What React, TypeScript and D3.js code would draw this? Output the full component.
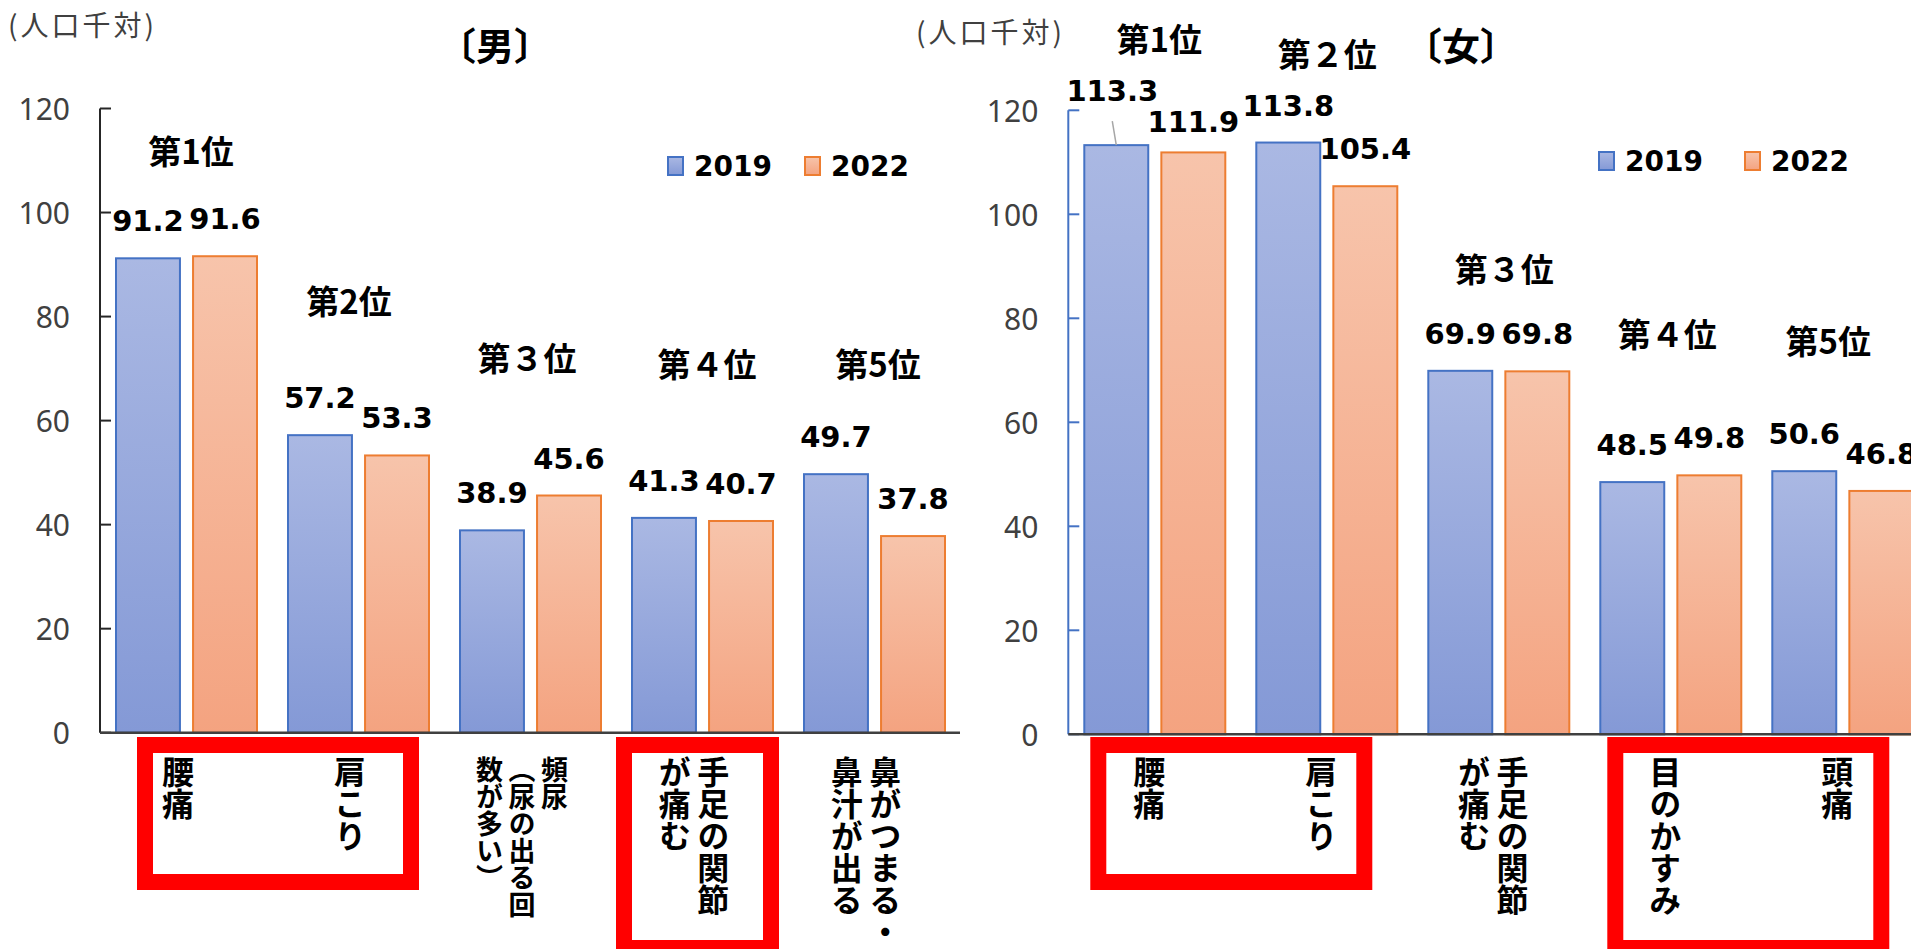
import React from "react";
import * as d3 from "d3";

// values (人口千対)
const years = ["2019", "2022"];
const yTicks = [0, 20, 40, 60, 80, 100, 120];

const maleCategories = [
  ["腰痛"],
  ["肩こり"],
  ["頻尿", "（尿の出る回", "数が多い）"],
  ["手足の関節", "が痛む"],
  ["鼻がつまる・", "鼻汁が出る"],
];
const male2019 = [91.2, 57.2, 38.9, 41.3, 49.7];
const male2022 = [91.6, 53.3, 45.6, 40.7, 37.8];
const maleRanks = ["第1位", "第2位", "第３位", "第４位", "第5位"];

const femaleCategories = [
  ["腰痛"],
  ["肩こり"],
  ["手足の関節", "が痛む"],
  ["目のかすみ"],
  ["頭痛"],
];
const female2019 = [113.3, 113.8, 69.9, 48.5, 50.6];
const female2022 = [111.9, 105.4, 69.8, 49.8, 46.8];
const femaleRanks = ["第1位", "第２位", "第３位", "第４位", "第5位"];

const BLUE = "#4472C4";
const ORANGE = "#ED7D31";
const CJK = "'Noto Sans CJK JP', sans-serif";
const NUM = "'DejaVu Sans', sans-serif";

// layout of the two panels (annotation positions are hand placed like the original)
const panels = [
  {
    key: "m",
    title: "〔男〕",
    titleX: 495,
    unitX: 8,
    unitY: 24,
    x0: 100,
    x1: 960,
    yBottom: 732.7,
    yTop: 108.5,
    axisColor: "#262626",
    cats: maleCategories,
    s2019: male2019,
    s2022: male2022,
    ranks: maleRanks,
    rankY: [150, 300, 357, 363, 363],
    rankDx: [5, -9, -3, 5, 4],
    legendX: 668,
    legendY: 166,
    legendGap: 137,
    catShift: -8,
    boxes: [
      { from: 0, to: 1, l: 37, r: 25, bottom: 890 },
      { from: 3, to: 3, l: 0, r: 9, bottom: 956 },
    ],
    nudge: {} as Record<string, { dx: number; dy: number }>,
  },
  {
    key: "f",
    title: "〔女〕",
    titleX: 1461,
    unitX: 916,
    unitY: 31,
    x0: 1068.3,
    x1: 1928.3,
    yBottom: 734.3,
    yTop: 110.3,
    axisColor: BLUE,
    cats: femaleCategories,
    s2019: female2019,
    s2022: female2022,
    ranks: femaleRanks,
    rankY: [38, 53, 268, 333, 340],
    rankDx: [5, 1, 6, -3, -14],
    legendX: 1599,
    legendY: 161,
    legendGap: 146,
    catShift: -5,
    boxes: [
      { from: 0, to: 1, l: 22, r: 40, bottom: 890 },
      { from: 3, to: 4, l: 23, r: 39, bottom: 956 },
    ],
    nudge: { "0-0": { dx: -4, dy: -17 }, "0-1": { dx: 0, dy: 7 } } as Record<
      string,
      { dx: number; dy: number }
    >,
  },
];

function Panel({ p }: { p: (typeof panels)[number] }) {
  const idx = p.cats.map((_, i) => String(i));
  const x0 = d3.scaleBand().domain(idx).range([p.x0, p.x1]);
  const x1 = d3.scaleBand().domain(years).range([16, 157]).paddingInner(0.17);
  const y = d3.scaleLinear().domain([0, 120]).range([p.yBottom, p.yTop]);
  const series = [p.s2019, p.s2022];
  const fills = ["url(#gBlue)", "url(#gOrange)"];
  const strokes = [BLUE, ORANGE];
  const bw = x1.bandwidth();

  return (
    <g>
      {/* bars */}
      {idx.map((k, i) =>
        years.map((yr, j) => {
          const v = series[j][i];
          return (
            <rect
              key={k + yr}
              x={x0(k)! + x1(yr)!}
              y={y(v)}
              width={bw}
              height={y(0) - y(v)}
              fill={fills[j]}
              stroke={strokes[j]}
              strokeWidth={2}
            />
          );
        })
      )}

      {/* value labels */}
      {idx.map((k, i) =>
        years.map((yr, j) => {
          const v = series[j][i];
          const n = p.nudge[`${i}-${j}`] || { dx: 0, dy: 0 };
          const cx = x0(k)! + x1(yr)! + bw / 2;
          const ty = y(v) - 27 + n.dy;
          return (
            <g key={"l" + k + yr}>
              {n.dy < -10 && (
                <line
                  x1={cx + n.dx}
                  y1={ty + 20}
                  x2={cx}
                  y2={y(v)}
                  stroke="#A6A6A6"
                  strokeWidth={1.5}
                />
              )}
              <text
                x={cx + n.dx}
                y={ty}
                textAnchor="middle"
                fontFamily={NUM}
                fontWeight="bold"
                fontSize={29}
                fill="#000"
              >
                {v.toFixed(1)}
              </text>
            </g>
          );
        })
      )}

      {/* y axis */}
      <line
        x1={p.x0}
        x2={p.x0}
        y1={y(0)}
        y2={y(120)}
        stroke={p.axisColor}
        strokeWidth={2}
      />
      {yTicks.map((t) => (
        <g key={"t" + t}>
          <line
            x1={p.x0}
            x2={p.x0 + 11}
            y1={y(t)}
            y2={y(t)}
            stroke={p.axisColor}
            strokeWidth={2}
          />
          <text
            x={p.x0 - 30}
            y={y(t)}
            textAnchor="end"
            dominantBaseline="central"
            fontFamily="'Noto Sans', sans-serif"
            fontSize={30}
            fill="#404040"
          >
            {t}
          </text>
        </g>
      ))}
      {/* x axis */}
      <line
        x1={p.x0}
        x2={p.x1}
        y1={y(0)}
        y2={y(0)}
        stroke="#404040"
        strokeWidth={2.5}
      />

      {/* rank labels */}
      {p.ranks.map((r, i) => (
        <text
          key={"r" + i}
          x={x0(idx[i])! + x0.bandwidth() / 2 + p.rankDx[i]}
          y={p.rankY[i]}
          textAnchor="middle"
          dominantBaseline="central"
          fontFamily={CJK}
          fontWeight="bold"
          fontSize={33}
          fill="#000"
        >
          {r}
        </text>
      ))}

      {/* vertical category labels, one text per column, right to left */}
      {p.cats.map((cols, i) => {
        const fs = cols.length >= 3 ? 27 : 32;
        const pitch = fs * 1.2;
        const cx = x0(idx[i])! + x0.bandwidth() / 2 + p.catShift;
        return cols.map((col, c) => (
          <text
            key={`c${i}-${c}`}
            x={cx + ((cols.length - 1) / 2) * pitch - c * pitch}
            y={756}
            style={{ writingMode: "vertical-rl", textOrientation: "mixed" }}
            fontFamily={CJK}
            fontWeight="bold"
            fontSize={fs}
            fill="#000"
          >
            {col}
          </text>
        ));
      })}

      {/* red highlight boxes */}
      {p.boxes.map((b, i) => {
        const left = x0(idx[b.from])! + b.l;
        const right = x0(idx[b.to])! + x0.bandwidth() - b.r;
        const top = 737;
        return (
          <rect
            key={"b" + i}
            x={left + 8}
            y={top + 8}
            width={right - left - 16}
            height={b.bottom - top - 16}
            fill="none"
            stroke="#FF0000"
            strokeWidth={16}
          />
        );
      })}

      {/* legend */}
      {years.map((yr, j) => (
        <g key={"lg" + yr} transform={`translate(${p.legendX + j * p.legendGap},${p.legendY})`}>
          <rect x={0} y={-9} width={15} height={18} fill={fills[j]} stroke={strokes[j]} strokeWidth={2} />
          <text
            x={26}
            y={0}
            dominantBaseline="central"
            fontFamily={NUM}
            fontWeight="bold"
            fontSize={28}
            fill="#000"
          >
            {yr}
          </text>
        </g>
      ))}

      {/* title and unit */}
      <text
        x={p.titleX}
        y={43}
        textAnchor="middle"
        dominantBaseline="central"
        fontFamily={CJK}
        fontWeight="bold"
        fontSize={38}
        fill="#000"
      >
        {p.title}
      </text>
      <text
        x={p.unitX}
        y={p.unitY}
        dominantBaseline="central"
        fontFamily={CJK}
        fontSize={28}
        letterSpacing={3}
        fill="#404040"
      >
        (人口千対)
      </text>
    </g>
  );
}

export default function App() {
  return (
    <svg
      width={1911}
      height={949}
      style={{ position: "absolute", left: 0, top: 0, background: "#fff" }}
    >
      <defs>
        <linearGradient id="gBlue" x1="0" y1="0" x2="0" y2="1">
          <stop offset="0" stopColor="#AAB8E3" />
          <stop offset="1" stopColor="#8499D6" />
        </linearGradient>
        <linearGradient id="gOrange" x1="0" y1="0" x2="0" y2="1">
          <stop offset="0" stopColor="#F7C4AB" />
          <stop offset="1" stopColor="#F4A380" />
        </linearGradient>
      </defs>
      {panels.map((p) => (
        <Panel key={p.key} p={p} />
      ))}
    </svg>
  );
}
